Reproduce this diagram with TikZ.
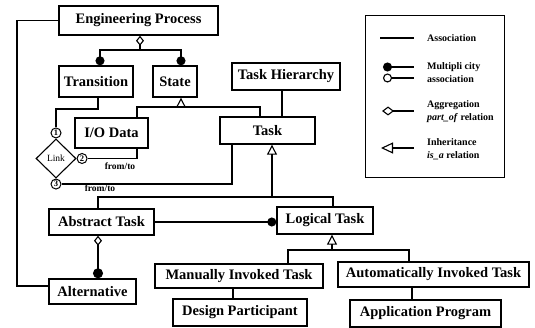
\documentclass[tikz,border=0pt]{standalone}
\usepackage{fontspec}
\setmainfont{Liberation Serif}
\usetikzlibrary{arrows.meta,shapes.geometric}
\tikzset{
  box/.style={draw, line width=1.4pt, inner sep=0pt,
    font=\fontsize{14.5}{16}\selectfont\bfseries},
  conn/.style={line width=1.1pt},
  agg/.style={{Diamond[open,length=10pt,width=8pt]}-},
  mult/.style={-{Circle[length=9pt]}},
  aggmult/.style={{Diamond[open,length=10pt,width=8pt]}-{Circle[length=10pt]}},
  inh/.style={{Triangle[open,length=10pt,width=10pt]}-},
  numc/.style={draw, circle, line width=1pt, fill=white, inner sep=0pt,
    minimum size=10pt, font=\fontsize{8.5}{8.5}\selectfont\bfseries},
  lbl/.style={inner sep=0pt, font=\fontsize{9.5}{10}\selectfont\bfseries},
  legtext/.style={inner sep=0pt, anchor=west, align=left,
    font=\fontsize{10}{13}\selectfont\bfseries},
}
\begin{document}
\begin{tikzpicture}[x=1pt,y=-1pt]
\useasboundingbox (0,0) rectangle (535,328);

% class boxes
\node[box, minimum width=159pt, minimum height=29pt] (ep)    at (138.5,20.5) {Engineering Process};
\node[box, minimum width=74pt,  minimum height=31pt] (trans) at (96,81.5)    {Transition};
\node[box, minimum width=44pt,  minimum height=31pt] (state) at (175,81.5)   {State};
\node[box, minimum width=108pt, minimum height=27pt] (th)    at (286,76.5)   {Task Hierarchy};
\node[box, minimum width=95pt,  minimum height=27pt] (task)  at (267.5,130.5) {Task};
\node[box, minimum width=73pt,  minimum height=30pt] (io)    at (111.5,133)  {I/O Data};
\node[box, minimum width=105pt, minimum height=26pt] (abs)   at (101.5,222)  {Abstract Task};
\node[box, minimum width=87pt,  minimum height=25pt] (alt)   at (92.5,291.5) {Alternative};
\node[box, minimum width=96pt,  minimum height=27pt] (log)   at (325,220.5)  {Logical Task};
\node[box, minimum width=168pt, minimum height=24pt] (man)   at (239,276)    {Manually Invoked Task};
\node[box, minimum width=191pt, minimum height=25pt] (auto)  at (433.5,274.5) {Automatically Invoked Task};
\node[box, minimum width=134pt, minimum height=27pt] (dp)    at (240,312.5)  {Design Participant};
\node[box, minimum width=151pt, minimum height=27pt] (ap)    at (425.5,313.5) {Application Program};

% the ternary Link association
\node[draw, diamond, line width=1.1pt, inner sep=0pt, minimum width=40pt,
      minimum height=39pt, font=\fontsize{9.5}{10}\selectfont] (link) at (56,158.5) {Link};
\node[numc, anchor=south] (c1) at (link.north) {1};
\node[numc, anchor=west]  (c2) at (link.east)  {2};
\node[numc, anchor=north] (c3) at (link.south) {3};

% Engineering Process aggregates Transition and State
\coordinate (epj) at (140,50);
\draw[conn, agg] (epj |- ep.south) -- (epj);
\draw[conn, mult] (epj) -| (100,0 |- trans.north);
\draw[conn, mult] (epj) -| (181,0 |- state.north);

% State generalises I/O Data and Task
\draw[conn, inh] (181,0 |- state.south) -- (181,107);
\draw[conn] (137,0 |- io.north) |- (260,107) -- (260,0 |- task.north);

% Task Hierarchy -- Task
\draw[conn] (282,0 |- th.south) -- (282,0 |- task.north);

% Link roles
\draw[conn] (98,0 |- trans.south) |- (c1.north |- 0,109) -- (c1.north);
\draw[conn] (c2.east) -| (137,0 |- io.south);
\draw[conn] (c3.east) -| (232,0 |- task.south);
\node[lbl] (ft1) at (120,166) {from/to};
\node[lbl] (ft2) at (100,188) {from/to};

% Task generalises Abstract Task and Logical Task
\draw[conn, inh] (272,0 |- task.south) -- (272,197);
\draw[conn] (98,0 |- abs.north) |- (333,197) -- (333,0 |- log.north);

% Abstract Task -- Logical Task
\draw[conn, mult] (abs.east) -- (abs.east -| log.west);

% Abstract Task aggregates Alternative
\draw[conn, aggmult] (98,0 |- abs.south) -- (98,0 |- alt.north);

% Alternative -- Engineering Process
\draw[conn] (alt.west |- 0,286) -- (17,286) |- (ep.west);

% Logical Task generalises the two invoked tasks
\draw[conn, inh] (332,0 |- log.south) -- (332,250);
\draw[conn] (288,0 |- man.north) |- (409,250) -- (409,0 |- auto.north);
\draw[conn] (233,0 |- man.south) -- (233,0 |- dp.north);
\draw[conn] (412,0 |- auto.south) -- (412,0 |- ap.north);

% legend
\node[draw, line width=0.8pt, inner sep=0pt, minimum width=139pt,
      minimum height=162pt] (legend) at (434.5,96) {};
\draw[conn] (380,38) -- (414,38);
\node[legtext] (lassoc) at (427,38) {Association};
\draw[conn, {Circle[length=9pt]}-] (383,67) -- (414,67);
\draw[conn, {Circle[open,length=9pt]}-] (383,78) -- (414,78);
\node[legtext] (lmult) at (427,72.5) {Multipli city\\association};
\draw[conn, {Diamond[open,length=12pt,width=9pt]}-] (382,111) -- (414,111);
\node[legtext] (lagg) at (427,111.5) {Aggregation\\\textit{part\_of} relation};
\draw[conn, {Triangle[open,length=12pt,width=11pt]}-] (381,148) -- (414,148);
\node[legtext] (linh) at (427,149.5) {Inheritance\\\textit{is\_a} relation};
\end{tikzpicture}
\end{document}
